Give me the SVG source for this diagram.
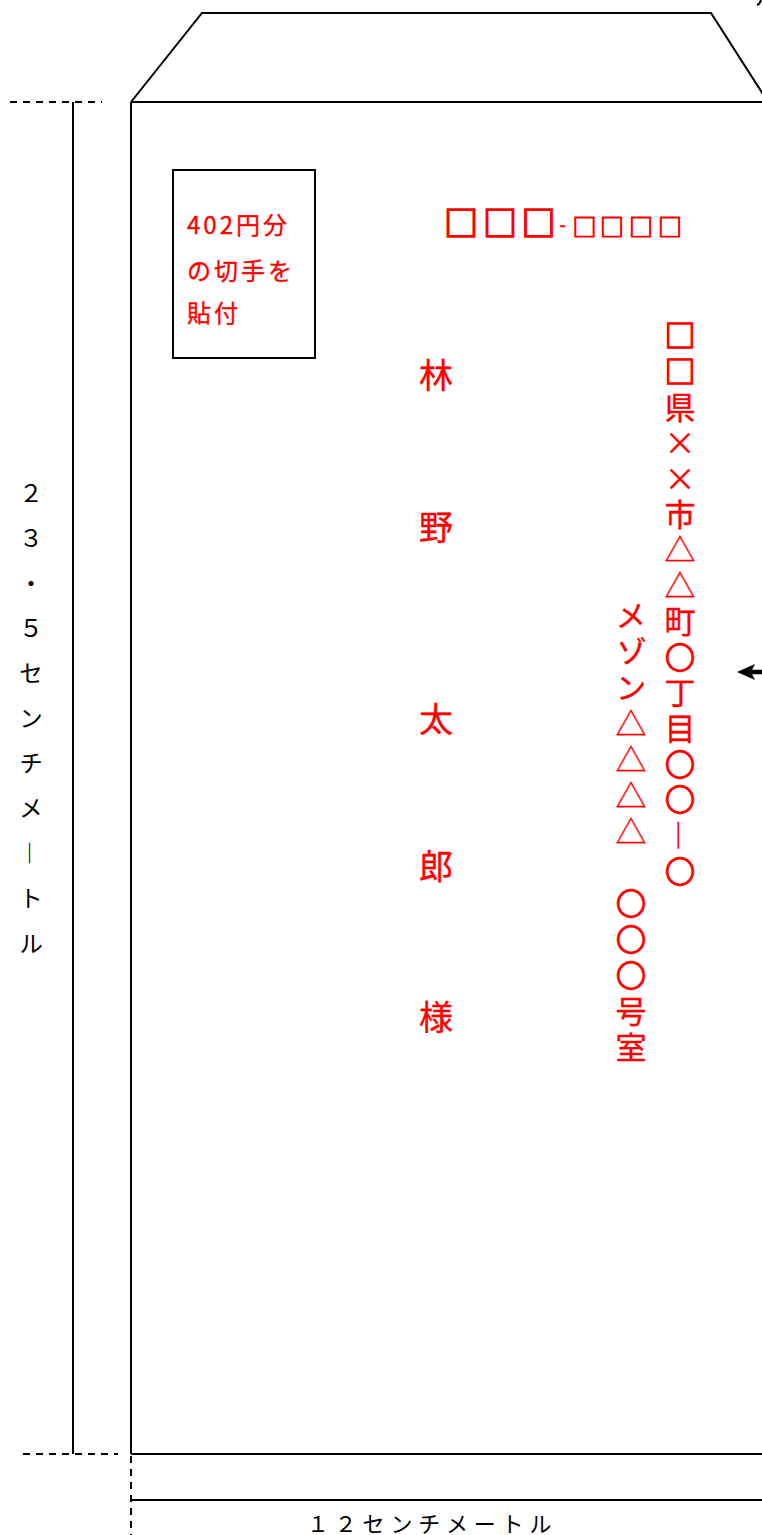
<svg xmlns="http://www.w3.org/2000/svg" width="762" height="1535" viewBox="0 0 762 1535">
<defs>
<style>
.ln{fill:none;stroke:#000;stroke-width:2}
.dash{fill:none;stroke:#000;stroke-width:2;stroke-dasharray:7 6}
.red{fill:#ff0000;stroke:#ff0000;stroke-width:0.35;font-family:"Noto Sans CJK JP","Noto Sans",sans-serif}
.blk{fill:#000;font-family:"Noto Sans CJK JP","Noto Sans",sans-serif}
.vt{writing-mode:vertical-rl}
.box{stroke-width:1.6}
</style>
<marker id="ah" viewBox="0 0 18 18" refX="12" refY="9" markerWidth="18" markerHeight="18" orient="auto" markerUnits="userSpaceOnUse">
<path d="M18,9 L0,1 L4,9 L0,17 Z" fill="#000"/>
</marker>
</defs>
<rect width="762" height="1535" fill="#fff"/>
<g id="envelope">
<polyline class="ln" points="131,102 202,13 711,13 768,102"/>
<line class="ln" x1="131" y1="102" x2="762" y2="102"/>
<line class="ln" x1="131" y1="102" x2="131" y2="1454"/>
<line class="ln" x1="131" y1="1454" x2="762" y2="1454"/>
<path class="ln" d="M761,0 Q760,4 757,5" stroke-width="1.5"/>
</g>
<g id="dim-height">
<line class="dash" x1="10" y1="102" x2="102" y2="102"/>
<line class="ln" x1="73" y1="102" x2="73" y2="1454"/>
<line class="dash" x1="23" y1="1454" x2="118" y2="1454"/>
<text class="blk vt" x="31" y="481" font-size="24" letter-spacing="21">２３・５センチメ―トル</text>
</g>
<g id="dim-width">
<line class="dash" x1="131" y1="1456" x2="131" y2="1535" stroke-dasharray="8 8"/>
<line class="ln" x1="131" y1="1500" x2="762" y2="1500"/>
<text class="blk" x="307" y="1532" font-size="22" letter-spacing="5.8">１２センチメートル</text>
</g>
<g id="stamp">
<rect x="173" y="170" width="142" height="188" class="ln"/>
<text class="red" font-size="24" letter-spacing="3"><tspan x="187" y="234">402円分</tspan><tspan x="187" y="280">の切手を</tspan><tspan x="187" y="322">貼付</tspan></text>
</g>
<g id="postcode" class="red" text-anchor="middle">
<text class="box" font-size="34"><tspan x="461" y="236">□</tspan><tspan x="500" y="236">□</tspan><tspan x="538.5" y="236">□</tspan></text>
<text x="562.5" y="232" font-size="20" font-family="Liberation Sans,sans-serif">-</text>
<text class="box" font-size="24" style="stroke-width:1"><tspan x="584.5" y="236">□</tspan><tspan x="612" y="236">□</tspan><tspan x="641" y="236">□</tspan><tspan x="670" y="236">□</tspan></text>
</g>
<g id="address">
<text class="red vt" x="680" y="320" font-size="31" letter-spacing="4.7"><tspan style="stroke-width:1.3">□□</tspan>県××市△△町〇丁目〇〇―〇</text>
<text class="red vt" x="631" y="600" font-size="31" letter-spacing="5">メゾン△△△△　〇〇〇号室</text>
</g>
<g id="name" class="red" font-size="34" text-anchor="middle">
<text x="436" y="388">林</text>
<text x="436" y="540">野</text>
<text x="436" y="732">太</text>
<text x="436" y="879">郎</text>
<text x="436" y="1030">様</text>
</g>
<g id="connectors">
<line x1="762" y1="672" x2="743" y2="672" stroke="#000" stroke-width="4.5" marker-end="url(#ah)"/>
</g>
</svg>
